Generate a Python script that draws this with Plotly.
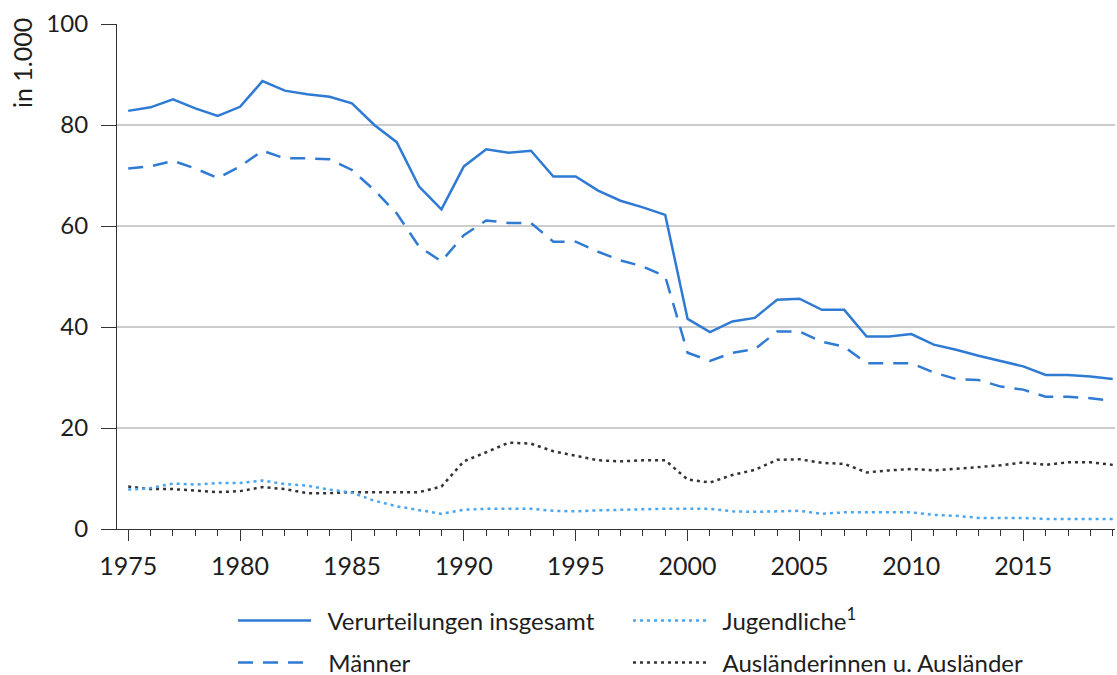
import plotly.graph_objects as go

years = list(range(1975, 2020))

total = [82.8, 83.5, 85.1, 83.3, 81.8, 83.6, 88.7, 86.8, 86.1, 85.6,
         84.3, 80.0, 76.6, 67.8, 63.3, 71.8, 75.2, 74.5, 74.9, 69.8,
         69.8, 67.0, 65.0, 63.7, 62.2, 41.6, 39.0, 41.1, 41.8, 45.4,
         45.6, 43.4, 43.4, 38.1, 38.1, 38.6, 36.5, 35.5, 34.3, 33.2,
         32.2, 30.5, 30.5, 30.2, 29.7]

maenner = [71.4, 71.8, 72.9, 71.4, 69.5, 71.8, 74.9, 73.4, 73.4, 73.2,
           71.1, 67.1, 62.5, 55.9, 53.0, 58.2, 61.1, 60.6, 60.6, 56.9,
           56.9, 54.9, 53.2, 52.0, 50.0, 34.9, 33.3, 34.9, 35.6, 39.1,
           39.1, 37.1, 36.1, 32.8, 32.8, 32.8, 31.0, 29.7, 29.5, 28.2,
           27.6, 26.2, 26.2, 25.9, 25.4]

jugendliche = [7.8, 8.1, 9.0, 8.8, 9.1, 9.1, 9.6, 8.9, 8.6, 7.8,
               7.2, 5.6, 4.5, 3.7, 3.0, 3.8, 4.0, 4.0, 4.0, 3.6,
               3.5, 3.7, 3.8, 4.0, 4.0, 4.0, 4.0, 3.5, 3.4, 3.5,
               3.6, 3.0, 3.3, 3.3, 3.3, 3.3, 2.8, 2.6, 2.2, 2.2,
               2.2, 2.0, 2.0, 2.0, 2.0]

auslaender = [8.4, 7.9, 7.9, 7.6, 7.3, 7.5, 8.3, 7.9, 7.1, 7.1,
              7.3, 7.3, 7.3, 7.3, 8.4, 13.4, 15.2, 17.1, 16.9, 15.4,
              14.5, 13.6, 13.4, 13.6, 13.6, 9.8, 9.2, 10.7, 11.7, 13.7,
              13.8, 13.1, 12.9, 11.2, 11.6, 11.9, 11.6, 11.9, 12.2, 12.6,
              13.2, 12.7, 13.2, 13.2, 12.7]

NB = "\u00a0\u00a0"
names = [NB + "Verurteilungen insgesamt", NB + "Jugendliche<sup>1</sup>",
         NB + "Männer", NB + "Ausländerinnen u. Ausländer"]
y_ticks = [0, 20, 40, 60, 80, 100]
x_ticks = [1975, 1980, 1985, 1990, 1995, 2000, 2005, 2010, 2015]

BLUE = "#2f7ad3"
LIGHT = "#4aa6f0"
DARK = "#333333"
FONT = "Lato"
TXT = "#1e1e1e"

fig = go.Figure()
fig.add_trace(go.Scatter(x=years, y=auslaender, name=names[3], mode="lines",
                         line=dict(color=DARK, width=2.5, dash="3px,4px"),
                         legend="legend2"))
fig.add_trace(go.Scatter(x=years, y=jugendliche, name=names[1], mode="lines",
                         line=dict(color=LIGHT, width=2.5, dash="3px,4px"),
                         legend="legend"))
fig.add_trace(go.Scatter(x=years, y=maenner, name=names[2], mode="lines",
                         line=dict(color=BLUE, width=2.5, dash="15px,10px"),
                         legend="legend2"))
fig.add_trace(go.Scatter(x=years, y=total, name=names[0], mode="lines",
                         line=dict(color=BLUE, width=2.5),
                         legend="legend"))

legend_common = dict(orientation="h", xref="container", yref="container",
                     xanchor="left", yanchor="middle", traceorder="reversed",
                     font=dict(family=FONT, size=24, color=TXT),
                     itemwidth=73, entrywidth=307, entrywidthmode="pixels",
                     bgcolor="rgba(0,0,0,0)", borderwidth=0,
                     itemclick=False)

fig.update_layout(
    width=1117, height=675, autosize=False,
    margin=dict(l=117, r=2, t=24, b=146, autoexpand=False),
    paper_bgcolor="white", plot_bgcolor="white",
    font=dict(family=FONT, size=23, color=TXT),
    xaxis=dict(range=[1974.5, 2019.1], tickmode="array", tickvals=x_ticks,
               ticks="outside", ticklen=11, tickwidth=1.2, tickcolor="#333",
               showline=True, linecolor="#333", linewidth=1.2,
               showgrid=False, zeroline=False, ticklabelstandoff=4,
               automargin=False,
               tickfont=dict(family=FONT, size=25, color=TXT),
               minor=dict(dtick=1, tick0=1975, ticks="outside", ticklen=6,
                          tickwidth=1.2, tickcolor="#333", showgrid=False)),
    yaxis=dict(range=[0, 100], tickmode="array", tickvals=y_ticks,
               ticks="outside", ticklen=15, tickwidth=1.2, tickcolor="#333",
               showline=True, linecolor="#333", linewidth=1.2,
               showgrid=True, gridcolor="#cccccc", gridwidth=1.5,
               zeroline=False, ticklabelstandoff=8, automargin=False,
               tickfont=dict(family=FONT, size=24, color=TXT)),
    showlegend=True,
    legend=dict(legend_common, x=233/1117, y=1 - 621/675),
    legend2=dict(legend_common, x=233/1117, y=1 - 663/675),
    annotations=[dict(text="in 1.000", textangle=-90, showarrow=False,
                      xref="paper", yref="paper",
                      x=(22 - 117) / 998, y=1 + (24 - 16) / 505.3,
                      xanchor="center", yanchor="top",
                      font=dict(family=FONT, size=25, color=TXT))],
)

fig.write_html("out.html", config={"displayModeBar": False},
               post_script="document.body.style.margin='0';")
